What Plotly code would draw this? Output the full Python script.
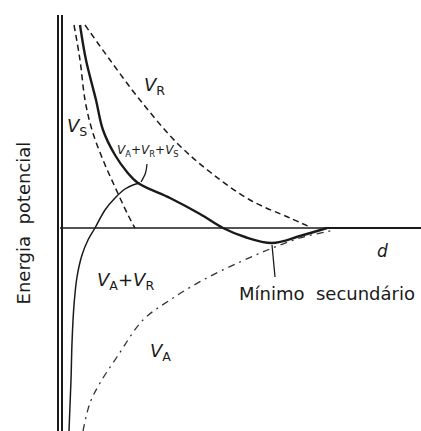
import plotly.graph_objects as go

# Curves (d in arbitrary units, energy in arbitrary units)
vr_x = [1.15, 2.4, 3.9, 5.75, 7.4, 9.4, 11.4, 12.4]
vr_y = [10.15, 8.4, 6.4, 4.25, 2.8, 1.4, 0.5, 0.05]

vs_x = [0.6, 0.9, 1.15, 1.5, 2.05, 2.65, 3.3, 3.65]
vs_y = [10.15, 8.4, 6.4, 4.9, 3.4, 2.05, 0.65, 0.0]

tot_x = [0.9, 1.2, 1.7, 2.05, 2.65, 3.25, 3.8, 5.4, 6.9, 8.05, 9.15, 10.5, 11.9, 13.25]
tot_y = [10.15, 8.4, 6.4, 4.9, 3.65, 2.8, 2.25, 1.5, 0.7, 0.0, -0.45, -0.75, -0.4, 0.0]
tail_x = [13.25, 17.95]
tail_y = [0.0, 0.0]

var_x = [0.35, 0.45, 0.5, 0.6, 0.75, 1.0, 1.3, 1.65, 2.15, 2.65, 3.15, 3.55, 3.9]
var_y = [-10.15, -7.6, -5.75, -3.85, -2.45, -1.35, -0.6, 0.0, 0.9, 1.5, 1.95, 2.15, 2.25]

va_x = [1.05, 1.4, 1.9, 2.75, 4.05, 5.4, 7.05, 8.9, 10.4, 11.9, 13.65]
va_y = [-10.15, -8.75, -7.75, -6.45, -4.6, -3.6, -2.6, -1.7, -1.05, -0.5, -0.1]

axis_x_x = [-0.1, 17.95]
axis_x_y = [0.0, 0.0]
axis_y_top = 10.65
axis_y_bottom = -10.15
axis_y_pos = [-0.2, 0.0]

ptr1_x = [4.25, 4.175, 3.95]
ptr1_y = [3.2, 2.75, 2.3]
ptr2_x = [10.5, 10.65]
ptr2_y = [-0.85, -2.45]

INK = "#1a1a1a"
fig = go.Figure()

def line(x, y, width, dash="solid", shape="spline", color=INK):
    fig.add_trace(go.Scatter(x=x, y=y, mode="lines",
                             line=dict(color=color, width=width, dash=dash, shape=shape),
                             hoverinfo="skip", showlegend=False))

# axes
line(axis_x_x, axis_x_y, 1.6, shape="linear")
for xp in axis_y_pos:
    line([xp, xp], [axis_y_top, axis_y_bottom], 2.0, shape="linear")

line(vr_x, vr_y, 1.5, dash="6px,4px")
line(vs_x, vs_y, 1.5, dash="6px,4px")
line(va_x, va_y, 1.3, dash="7px,5px,2px,5px", color="#333333")
line(var_x, var_y, 1.5)
line(tot_x, tot_y, 2.4)
line(tail_x, tail_y, 2.0, shape="linear")
line(ptr1_x, ptr1_y, 1.3)
line(ptr2_x, ptr2_y, 1.3, shape="linear")

FONT = "DejaVu Sans"
def label(x, y, text, size, xanchor="center", textangle=0):
    fig.add_annotation(x=x, y=y, text=text, showarrow=False, xanchor=xanchor,
                       yanchor="middle", textangle=textangle,
                       font=dict(family=FONT, size=size, color=INK))

label(4.6, 7.1, "<i>V</i><sub>R</sub>", 18)
label(0.75, 5.05, "<i>V</i><sub>S</sub>", 18)
label(4.3, 3.85, "<i>V</i><sub>A</sub>+<i>V</i><sub>R</sub>+<i>V</i><sub>S</sub>", 12)
label(3.15, -2.65, "<i>V</i><sub>A</sub>+<i>V</i><sub>R</sub>", 18)
label(4.9, -6.2, "<i>V</i><sub>A</sub>", 18)
label(16.0, -1.15, "<i>d</i>", 17)
label(8.75, -3.25, "Mínimo\u00a0\u00a0secundário", 18, xanchor="left")
fig.add_annotation(x=0.055, y=0.482, xref="paper", yref="paper",
                   text="Energia\u00a0\u00a0potencial", showarrow=False,
                   textangle=-90, xanchor="center", yanchor="middle",
                   font=dict(family=FONT, size=18, color=INK))

fig.update_layout(width=421, height=431, margin=dict(l=0, r=0, t=0, b=0),
                  paper_bgcolor="white", plot_bgcolor="white", autosize=False)
fig.update_xaxes(range=[-3.1, 17.95], visible=False, fixedrange=True)
fig.update_yaxes(range=[-10.15, 11.4], visible=False, fixedrange=True)

fig.write_html("out.html")
